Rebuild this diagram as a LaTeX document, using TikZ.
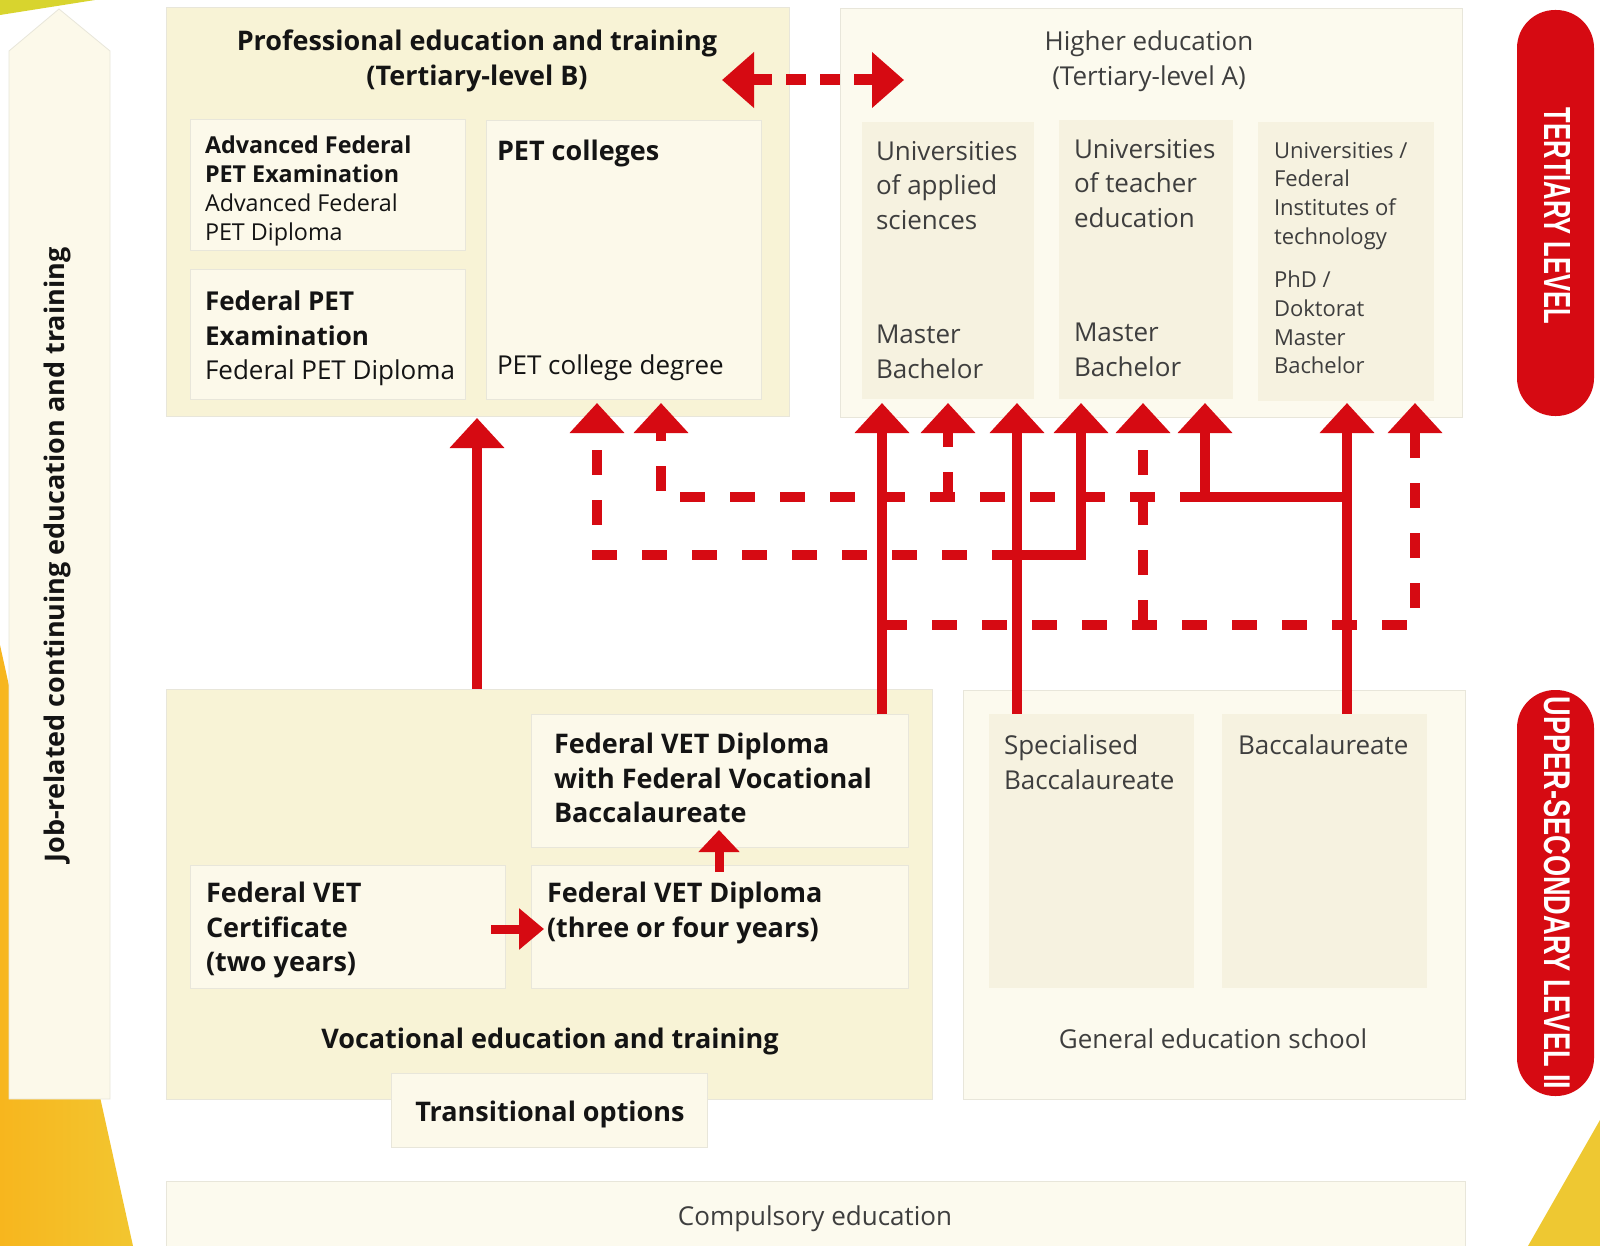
\documentclass[tikz,border=0pt]{standalone}
\usepackage{fontspec}
\setmainfont{Open Sans}
\newfontfamily\pillfont{Liberation Sans}
\usetikzlibrary{arrows.meta}
\definecolor{petbg}{RGB}{248,243,214}
\definecolor{innerbg}{RGB}{252,249,234}
\definecolor{hebg}{RGB}{252,250,238}
\definecolor{hecol}{RGB}{246,242,224}
\definecolor{edgec}{RGB}{232,230,218}
\definecolor{greytxt}{RGB}{62,62,62}
\definecolor{blacktxt}{RGB}{20,20,20}
\definecolor{swissred}{RGB}{214,10,18}
\definecolor{limey}{RGB}{216,212,46}
\definecolor{orangeL}{RGB}{247,182,30}
\definecolor{orangeR}{RGB}{242,198,48}
\definecolor{yellowBR}{RGB}{238,200,50}
\begin{document}
\begin{tikzpicture}[x=1pt,y=-1pt,
  box/.style={draw=edgec, line width=0.8pt, inner sep=0pt, outer sep=0pt, anchor=north west},
  txt/.style={inner sep=0pt, outer sep=0pt, align=left, anchor=north west},
  ctxt/.style={inner sep=0pt, outer sep=0pt, align=center, anchor=north},
  fbig/.style={font=\fontsize{26}{34.5}\selectfont},
  fbigb/.style={font=\fontsize{27}{34.5}\selectfont\bfseries},
  fvet/.style={font=\fontsize{27}{34.5}\selectfont\bfseries},
  fsmall/.style={font=\fontsize{22}{28.7}\selectfont},
  fadv/.style={font=\fontsize{23.3}{29}\selectfont},
  blk/.style={text=blacktxt},
  gry/.style={text=greytxt},
  redline/.style={draw=swissred, line width=10pt},
  reddash/.style={redline, dash pattern=on 25pt off 25pt},
  uparrow/.style={-{Triangle[width=53pt,length=30pt]}},
  pill/.style={fill=swissred, draw=none, rounded corners=38pt, inner sep=0pt, minimum width=77pt, minimum height=406pt},
  pilltxt/.style={text=white, rotate=-90, inner sep=0pt, font=\pillfont\bfseries}
]
\useasboundingbox (0,0) rectangle (1600,1246);
\fill[white] (0,0) rectangle (1600,1246);

% decorative yellow shapes
\fill[limey] (0,0) -- (95,0) -- (0,15) -- cycle;
\shade[left color=orangeL, right color=orangeR] (0,645) -- (133,1246) -- (0,1246) -- cycle;
\fill[yellowBR] (1600,1120) -- (1528,1246) -- (1600,1246) -- cycle;

% job-related arrow
\filldraw[fill=innerbg, draw=edgec, line width=0.8pt] (9,1099) -- (9,51) -- (59,9) -- (110,51) -- (110,1099) -- cycle;
\node[blk, rotate=90, inner sep=0pt, font=\fontsize{27}{30}\selectfont\bfseries] (jobtxt) at (57,555) {Job-related continuing education and training};

% boxes
\node[box, fill=petbg, minimum width=623pt, minimum height=409pt] (pet) at (166,7) {};
\node[box, fill=innerbg, minimum width=275pt, minimum height=131pt] (advfed) at (190,119) {};
\node[box, fill=innerbg, minimum width=275pt, minimum height=130pt] (fedpet) at (190,269) {};
\node[box, fill=innerbg, minimum width=275pt, minimum height=279pt] (petcol) at (486,120) {};
\node[box, fill=hebg, minimum width=622pt, minimum height=409pt] (he) at (840,8) {};
\node[box, fill=hecol, draw=none, minimum width=172pt, minimum height=277pt] (uas) at (862,122) {};
\node[box, fill=hecol, draw=none, minimum width=174pt, minimum height=279pt] (ute) at (1059,120) {};
\node[box, fill=hecol, draw=none, minimum width=176pt, minimum height=279pt] (eth) at (1258,122) {};
\node[box, fill=petbg, minimum width=766pt, minimum height=410pt] (vet) at (166,689) {};
\node[box, fill=innerbg, minimum width=377pt, minimum height=133pt] (vetbacc) at (531,714) {};
\node[box, fill=innerbg, minimum width=315pt, minimum height=123pt] (vetcert) at (190,865) {};
\node[box, fill=innerbg, minimum width=377pt, minimum height=123pt] (vetdip) at (531,865) {};
\node[box, fill=innerbg, minimum width=316pt, minimum height=74pt] (trans) at (391,1073) {};
\node[box, fill=hebg, minimum width=502pt, minimum height=409pt] (gen) at (963,690) {};
\node[box, fill=hecol, draw=none, minimum width=205pt, minimum height=274pt] (spec) at (989,714) {};
\node[box, fill=hecol, draw=none, minimum width=205pt, minimum height=274pt] (bacc) at (1222,714) {};
\node[box, fill=hebg, minimum width=1299pt, minimum height=70pt] (comp) at (166,1181) {};

% texts: PET
\node[ctxt, blk, fbigb] (pethead) at (477,30) {Professional education and training\\(Tertiary-level B)};
\node[txt, blk, fadv] (advfedtxt) at (205,136) {\textbf{Advanced Federal}\\\textbf{PET Examination}\\Advanced Federal\\PET Diploma};
\node[txt, blk, font=\fontsize{26}{34.5}\selectfont] (fedpettxt) at (205,291) {\textbf{Federal PET}\\\textbf{Examination}\\Federal PET Diploma};
\node[txt, blk, fbigb] (petcoltxt) at (497,140) {PET colleges};
\node[txt, blk, fbig] (petdegtxt) at (497,355) {PET college degree};

% texts: higher education
\node[ctxt, gry, fbig] (hehead) at (1149,31) {Higher education\\(Tertiary-level A)};
\node[txt, gry, fbig] (uastxt) at (876,141) {Universities\\of applied\\sciences};
\node[txt, gry, fbig] (uasdeg) at (876,325) {Master\\Bachelor};
\node[txt, gry, fbig] (utetxt) at (1074,139) {Universities\\of teacher\\education};
\node[txt, gry, fbig] (utedeg) at (1074,323) {Master\\Bachelor};
\node[txt, gry, fsmall] (ethtxt) at (1274,142) {Universities /\\Federal\\Institutes of\\technology};
\node[txt, gry, fsmall] (ethdeg) at (1274,271) {PhD /\\Doktorat\\Master\\Bachelor};

% texts: VET
\node[txt, blk, fvet] (vetbacctxt) at (554,733) {Federal VET Diploma\\with Federal Vocational\\Baccalaureate};
\node[txt, blk, fvet] (vetcerttxt) at (206,882) {Federal VET\\Certificate\\(two years)};
\node[txt, blk, fvet] (vetdiptxt) at (547,882) {Federal VET Diploma\\(three or four years)};
\node[ctxt, blk, fvet] (vettitle) at (550,1028) {Vocational education and training};
\node[ctxt, blk, fvet] (transtxt) at (550,1101) {Transitional options};

% texts: general education
\node[txt, gry, fbig] (spectxt) at (1004,735) {Specialised\\Baccalaureate};
\node[txt, gry, fbig] (bacctxt) at (1238,735) {Baccalaureate};
\node[ctxt, gry, fbig] (gentitle) at (1213,1029) {General education school};
\node[ctxt, gry, fbig] (comptxt) at (815,1206) {Compulsory education};

% level pills
\node[pill] (tert) at (1555.5,213) {};
\node[pilltxt] (terttxt) at (1557,216) {\resizebox{216pt}{26pt}{TERTIARY LEVEL}};
\node[pill] (upsec) at (1555.5,893) {};
\node[pilltxt] (upsectxt) at (1557,893) {\resizebox{393pt}{26pt}{UPPER-SECONDARY LEVEL II}};

% coordinates
\coordinate (tA) at (477,418);
\coordinate (tP1) at (597,403);
\coordinate (tP2) at (661,403);
\coordinate (tU1) at (882,403);
\coordinate (tU2) at (948,403);
\coordinate (tU3) at (1017,403);
\coordinate (tT1) at (1081,403);
\coordinate (tT2) at (1143,403);
\coordinate (tT3) at (1205,403);
\coordinate (tE1) at (1347,403);
\coordinate (tE2) at (1415,403);
\coordinate (jSpec) at (1017,555);
\coordinate (jBacc) at (1347,497);
\coordinate (jVb) at (882,625);
\coordinate (hL) at (722,80);
\coordinate (hR) at (904,80);

% dashed connectors
\draw[reddash, uparrow] (jSpec) -- (tP1 |- jSpec) -- (tP1);
\draw[reddash, uparrow] (tT3 |- jBacc) -- (tP2 |- jBacc) -- (tP2);
\draw[reddash, uparrow] (tU2 |- jBacc) -- (tU2);
\draw[reddash, uparrow] (jVb) -- (tE2 |- jVb) -- (tE2);
\draw[reddash, uparrow] (tT2 |- jVb) -- (tT2);
\draw[swissred, line width=11pt, dash pattern=on 20pt off 14pt, {Triangle[width=54pt,length=32pt]}-{Triangle[width=54pt,length=32pt]}] (hL) -- (hR);

% solid connectors
\draw[redline, uparrow] (vet.north -| tA) -- (tA);
\draw[redline, uparrow] (vetbacc.north -| tU1) -- (tU1);
\draw[redline, uparrow] (spec.north -| tU3) -- (tU3);
\draw[redline, uparrow] (jSpec) -- (tT1 |- jSpec) -- (tT1);
\draw[redline, uparrow] (bacc.north -| tE1) -- (tE1);
\draw[redline, uparrow] (jBacc) -- (tT3 |- jBacc) -- (tT3);

% small VET arrows
\coordinate (sH1) at (491,929);
\coordinate (sH2) at (544,929);
\coordinate (sV1) at (719,872);
\coordinate (sV2) at (719,830);
\draw[redline, line width=9pt, -{Triangle[width=40pt,length=25pt]}] (sH1) -- (sH2);
\draw[redline, line width=9pt, -{Triangle[width=40pt,length=22pt]}] (sV1) -- (sV2);
\end{tikzpicture}
\end{document}
